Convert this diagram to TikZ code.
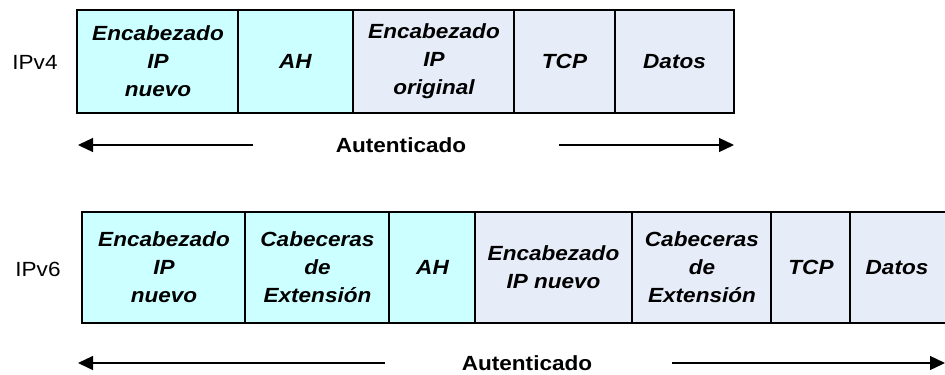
\documentclass[tikz,border=0pt]{standalone}
\usepackage{fontspec}
\setmainfont{Liberation Sans}[FakeStretch=1.1]
\usetikzlibrary{arrows.meta}
\definecolor{cyanfill}{HTML}{CCFFFF}
\definecolor{lavfill}{HTML}{E6ECF8}
\tikzset{
  cell/.style={draw=black, line width=1.4bp},
  cyancell/.style={cell, fill=cyanfill},
  lavcell/.style={cell, fill=lavfill},
  lbl/.style={font=\fontsize{20.5bp}{28bp}\selectfont\bfseries\itshape, align=center, inner sep=0pt},
  rowlbl/.style={font=\fontsize{20.5bp}{24bp}\selectfont, inner sep=0pt},
  authlbl/.style={font=\fontsize{20.5bp}{24bp}\selectfont\bfseries, inner sep=0pt},
  authar/.style={line width=1.3bp, -{Triangle[length=15bp,width=14bp]}}
}
\begin{document}
\begin{tikzpicture}[x=1bp,y=-1bp]
\useasboundingbox (0,0) rectangle (945,374);
\begin{scope}
\clip (0,0) rectangle (945,374);
% IPv4 row
\node[rowlbl] (ipv4) at (35,62) {IPv4};
\draw[cyancell] (77,10) rectangle (238,113);
\draw[cyancell] (238,10) rectangle (353,113);
\draw[lavcell] (353,10) rectangle (514,113);
\draw[lavcell] (514,10) rectangle (615,113);
\draw[lavcell] (615,10) rectangle (734,113);
\node[lbl] (a1) at (158,61.5) {Encabezado\\IP\\nuevo};
\node[lbl] (a2) at (295.5,61.5) {AH};
\node[lbl] (a3) at (434,61.5) {Encabezado\\IP\\original};
\node[lbl] (a4) at (564.5,61.5) {TCP};
\node[lbl] (a5) at (674.5,61.5) {Datos};
\node[authlbl] (auth4) at (401,145) {Autenticado};
\coordinate (l4a) at (253,145);
\coordinate (l4b) at (78,145);
\coordinate (r4a) at (559,145);
\coordinate (r4b) at (734,145);
\draw[authar] (l4a) -- (l4b);
\draw[authar] (r4a) -- (r4b);
% IPv6 row
\node[rowlbl] (ipv6) at (38,269) {IPv6};
\draw[cyancell] (82,212) rectangle (245,323);
\draw[cyancell] (245,212) rectangle (389,323);
\draw[cyancell] (389,212) rectangle (475,323);
\draw[lavcell] (475,212) rectangle (632,323);
\draw[lavcell] (632,212) rectangle (771,323);
\draw[lavcell] (771,212) rectangle (850,323);
\draw[lavcell] (850,212) rectangle (952,323);
\node[lbl] (b1) at (164,267.5) {Encabezado\\IP\\nuevo};
\node[lbl] (b2) at (317.5,267.5) {Cabeceras\\de\\Extensión};
\node[lbl] (b3) at (432.5,267.5) {AH};
\node[lbl] (b4) at (553.5,267.5) {Encabezado\\IP nuevo};
\node[lbl] (b5) at (702,267.5) {Cabeceras\\de\\Extensión};
\node[lbl] (b6) at (811,267.5) {TCP};
\node[lbl] (b7) at (897,267.5) {Datos};
\node[authlbl] (auth6) at (527,363) {Autenticado};
\coordinate (l6a) at (385,363);
\coordinate (l6b) at (78,363);
\coordinate (r6a) at (672,363);
\coordinate (r6b) at (945,363);
\draw[authar] (l6a) -- (l6b);
\draw[authar] (r6a) -- (r6b);
\end{scope}
\end{tikzpicture}
\end{document}
